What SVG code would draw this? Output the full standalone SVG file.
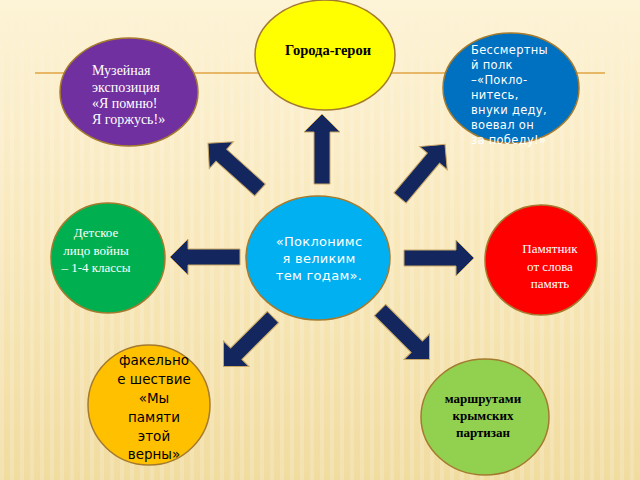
<svg xmlns="http://www.w3.org/2000/svg" width="640" height="480" viewBox="0 0 640 480">
<defs>
<linearGradient id="bg" x1="0" y1="0" x2="0" y2="1">
<stop offset="0" stop-color="#fdf3d6"/>
<stop offset="0.5" stop-color="#f8e8bb"/>
<stop offset="1" stop-color="#f1dca0"/>
</linearGradient>
<linearGradient id="fade" x1="0" y1="0" x2="0" y2="1">
<stop offset="0" stop-color="#fff" stop-opacity="0"/>
<stop offset="0.25" stop-color="#fff" stop-opacity="1"/>
<stop offset="1" stop-color="#fff" stop-opacity="1"/>
</linearGradient>
<mask id="m">
<rect width="640" height="480" fill="url(#fade)"/>
</mask>
<pattern id="stripes" width="10" height="480" patternUnits="userSpaceOnUse">
<rect x="0" y="0" width="4" height="480" fill="#ffffff" opacity="0.18"/>
</pattern>
<path id="arr" d="M0,-8 L52,-8 L52,-18 L70,0 L52,18 L52,8 L0,8 Z"/>
<style>
.node{stroke:#a47a2e;stroke-width:1.5}
.arrow{fill:#13275e;stroke:#c9a866;stroke-width:1}
.serif{font-family:"Liberation Serif","Times New Roman",serif}
.sans{font-family:"DejaVu Sans","Verdana",sans-serif}
.mid{text-anchor:middle}
</style>
</defs>
<rect width="640" height="480" fill="url(#bg)"/>
<rect width="640" height="480" fill="url(#stripes)" mask="url(#m)"/>
<line x1="35" y1="73" x2="605" y2="73" stroke="#e0a443" stroke-width="1.5"/>

<g id="connectors">
<use href="#arr" class="arrow" transform="translate(322,184) rotate(-90)"/>
<use href="#arr" class="arrow" transform="translate(240,257) rotate(180)"/>
<use href="#arr" class="arrow" transform="translate(404,258)"/>
<use href="#arr" class="arrow" transform="translate(260,190) rotate(-138)"/>
<use href="#arr" class="arrow" transform="translate(400,198) rotate(-50)"/>
<use href="#arr" class="arrow" transform="translate(273,317) rotate(135)"/>
<use href="#arr" class="arrow" transform="translate(380,310) rotate(45)"/>
</g>

<g id="n-goroda">
<ellipse class="node" cx="325" cy="55" rx="70" ry="55" fill="#ffff00"/>
<text class="serif mid" x="328" y="55" font-size="14.5" font-weight="bold" fill="#000">Города-герои</text>
</g>

<g id="n-polk" class="sans" font-size="11.5" fill="#fff" letter-spacing="0.3">
<ellipse class="node" cx="511" cy="88" rx="68" ry="55" fill="#0070c0"/>
<text x="471" y="54">Бессмертны</text>
<text x="471" y="69">й полк</text>
<text x="471" y="84">–«Покло-</text>
<text x="471" y="99">нитесь,</text>
<text x="471" y="114">внуки деду,</text>
<text x="471" y="129">воевал он</text>
<text x="471" y="144">за победу!»</text>
</g>

<g id="n-muzey" class="serif" font-size="14" fill="#fff">
<ellipse class="node" cx="129" cy="92" rx="69" ry="54" fill="#7030a0"/>
<text x="92" y="75">Музейная</text>
<text x="92" y="92">экспозиция</text>
<text x="92" y="108">«Я помню!</text>
<text x="92" y="124">Я горжусь!»</text>
</g>

<g id="n-center" class="sans mid" font-size="13" fill="#fff" letter-spacing="0.3">
<ellipse class="node" cx="318" cy="258" rx="72" ry="62" fill="#00b0f0"/>
<text x="319" y="246">«Поклонимс</text>
<text x="319" y="263">я великим</text>
<text x="319" y="280">тем годам».</text>
</g>

<g id="n-detskoe" class="serif mid" font-size="13" fill="#fff">
<ellipse class="node" cx="108" cy="258" rx="57" ry="55" fill="#00b050"/>
<text x="96" y="237">Детское</text>
<text x="96" y="255">лицо войны</text>
<text x="96" y="272">– 1-4 классы</text>
</g>

<g id="n-pamyatnik" class="serif mid" font-size="13" fill="#fff">
<ellipse class="node" cx="541" cy="260" rx="56" ry="55" fill="#ff0000"/>
<text x="550" y="253">Памятник</text>
<text x="550" y="271">от слова</text>
<text x="550" y="288">память</text>
</g>

<g id="n-fakel" class="sans mid" font-size="13.5" fill="#000">
<ellipse class="node" cx="149" cy="405" rx="61" ry="60" fill="#ffc000"/>
<text x="154" y="365">факельно</text>
<text x="154" y="384">е шествие</text>
<text x="154" y="403">«Мы</text>
<text x="154" y="422">памяти</text>
<text x="154" y="441">этой</text>
<text x="154" y="459">верны»</text>
</g>

<g id="n-marshrut" class="serif mid" font-size="13" font-weight="bold" fill="#000">
<ellipse class="node" cx="485" cy="417" rx="64" ry="58" fill="#92d050"/>
<text x="483" y="403">маршрутами</text>
<text x="483" y="420">крымских</text>
<text x="483" y="437">партизан</text>
</g>
</svg>
